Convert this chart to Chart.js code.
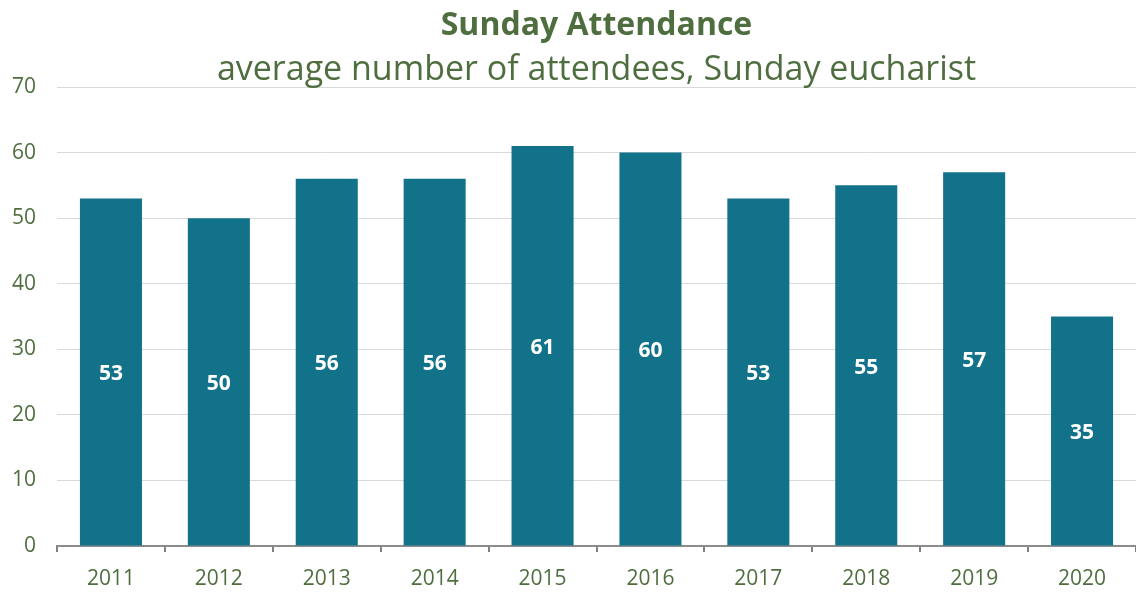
<!DOCTYPE html>
<html><head><meta charset="utf-8">
<script src="https://cdn.jsdelivr.net/npm/chart.js@4/dist/chart.umd.min.js"></script>
<style>html,body{margin:0;padding:0;background:#fff}#wrap{width:1136px;height:593px}</style>
</head><body><div id="wrap"><canvas id="c" width="1136" height="593"></canvas></div>
<script>
const categories = ["2011","2012","2013","2014","2015","2016","2017","2018","2019","2020"];
const attendance = [53,50,56,56,61,60,53,55,57,35];
const yTicks = [0,10,20,30,40,50,60,70];
const titleText = "Sunday Attendance";
const subtitleText = "average number of attendees, Sunday eucharist";

const GREEN = "#4F6E3F";
const FONT = "'Open Sans', sans-serif";

const titlePlugin = {
  id: 'centerTitle',
  afterDraw(chart) {
    const ctx = chart.ctx, a = chart.chartArea;
    const cx = (a.left + a.right) / 2;
    ctx.save();
    ctx.fillStyle = GREEN;
    ctx.textAlign = 'center';
    ctx.textBaseline = 'alphabetic';
    ctx.font = "bold 32px " + FONT;
    ctx.fillText(titleText, cx, 35);
    ctx.font = "34px " + FONT;
    ctx.fillText(subtitleText, cx, 80);
    ctx.restore();
  }
};

const valueLabels = {
  id: 'valueLabels',
  afterDatasetsDraw(chart) {
    const ctx = chart.ctx;
    const meta = chart.getDatasetMeta(0);
    const ys = chart.scales.y;
    ctx.save();
    ctx.fillStyle = '#FFFFFF';
    ctx.font = "bold 21px " + FONT;
    ctx.textAlign = 'center';
    ctx.textBaseline = 'middle';
    meta.data.forEach((bar, i) => {
      const v = chart.data.datasets[0].data[i];
      const y = ys.getPixelForValue(v / 2) + 2;
      ctx.fillText(String(v), bar.x, y);
    });
    ctx.restore();
  }
};

new Chart(document.getElementById('c'), {
  type: 'bar',
  data: {
    labels: categories,
    datasets: [{
      data: attendance,
      backgroundColor: '#12728A',
      borderWidth: 0,
      categoryPercentage: 1,
      barPercentage: 0.575
    }]
  },
  options: {
    responsive: false,
    animation: false,
    layout: { padding: { top: 87, right: 0, left: 0, bottom: 0 } },
    plugins: { legend: { display: false }, tooltip: { enabled: false }, title: { display: false } },
    scales: {
      x: {
        offset: true,
        grid: { offset: true, drawOnChartArea: false, drawTicks: true, tickLength: 6, color: '#7F7F7F', lineWidth: 2 },
        border: { display: true, color: '#8C8C8C', width: 2 },
        ticks: { color: GREEN, font: { family: FONT, size: 21 }, padding: 14 },
        afterFit(s) { s.height = 47; }
      },
      y: {
        min: 0, max: 70,
        afterBuildTicks(s) { s.ticks = yTicks.map(v => ({ value: v })); },
        grid: { color: '#D9D9D9', lineWidth: 1, drawTicks: false },
        border: { display: false },
        ticks: { color: GREEN, font: { family: FONT, size: 21 }, padding: 21 },
        afterFit(s) { s.width = 57; }
      }
    }
  },
  plugins: [titlePlugin, valueLabels]
});
</script></body></html>
